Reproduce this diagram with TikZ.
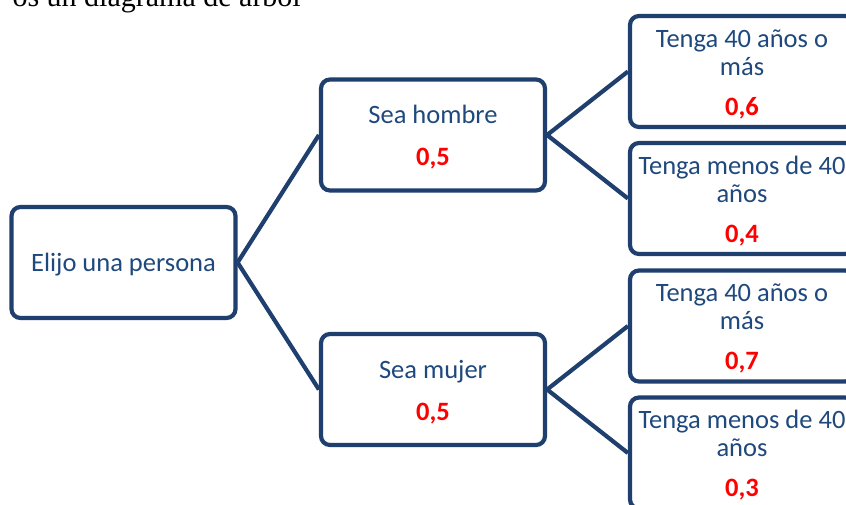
\documentclass[tikz,border=0pt]{standalone}
\usepackage{fontspec}
\setmainfont{Carlito}
\newfontfamily\seriffont{Liberation Serif}
\definecolor{boxblue}{HTML}{1F3F6F}
\definecolor{txtblue}{HTML}{1F497D}
\definecolor{probred}{HTML}{FF0000}
\begin{document}
\begin{tikzpicture}[x=1pt,y=-1pt,
  treebox/.style={draw=boxblue, line width=4.2pt, rounded corners=9pt, fill=white,
    minimum width=224pt, minimum height=111pt, inner sep=0pt},
  boxtext/.style={inner sep=0pt, align=center, text=txtblue,
    font=\fontsize{26.5}{28}\selectfont, yshift=-2.5pt},
  branch/.style={draw=boxblue, line width=4.2pt}]
\useasboundingbox (0,0) rectangle (846,504);
\clip (0,0) rectangle (846,504);
\node[anchor=base east, inner sep=0pt, font=\seriffont\fontsize{30}{36}\selectfont] (title) at (301,6) {os un diagrama de árbol};
\newcommand{\pr}[1]{{\bfseries\color{probred}#1}}
\node[treebox] (root) at (123.5,262.5) {};
\node[treebox] (h) at (433,135) {};
\node[treebox] (m) at (433,389.5) {};
\node[treebox] (h1) at (742,71.5) {};
\node[treebox] (h2) at (742,198.5) {};
\node[treebox] (m1) at (742,326) {};
\node[treebox] (m2) at (742,453) {};
\node[boxtext] (roott) at (root.center) {Elijo una persona};
\node[boxtext] (ht) at (h.center) {Sea hombre\\[14pt]\pr{0,5}};
\node[boxtext] (mt) at (m.center) {Sea mujer\\[14pt]\pr{0,5}};
\node[boxtext] (h1t) at (h1.center) {Tenga 40 años o\\más\\[12pt]\pr{0,6}};
\node[boxtext] (h2t) at (h2.center) {Tenga menos de 40\\años\\[12pt]\pr{0,4}};
\node[boxtext] (m1t) at (m1.center) {Tenga 40 años o\\más\\[12pt]\pr{0,7}};
\node[boxtext] (m2t) at (m2.center) {Tenga menos de 40\\años\\[12pt]\pr{0,3}};
\draw[branch] (root.east) -- (h.west);
\draw[branch] (root.east) -- (m.west);
\draw[branch] (h.east) -- (h1.west);
\draw[branch] (h.east) -- (h2.west);
\draw[branch] (m.east) -- (m1.west);
\draw[branch] (m.east) -- (m2.west);
\end{tikzpicture}
\end{document}
